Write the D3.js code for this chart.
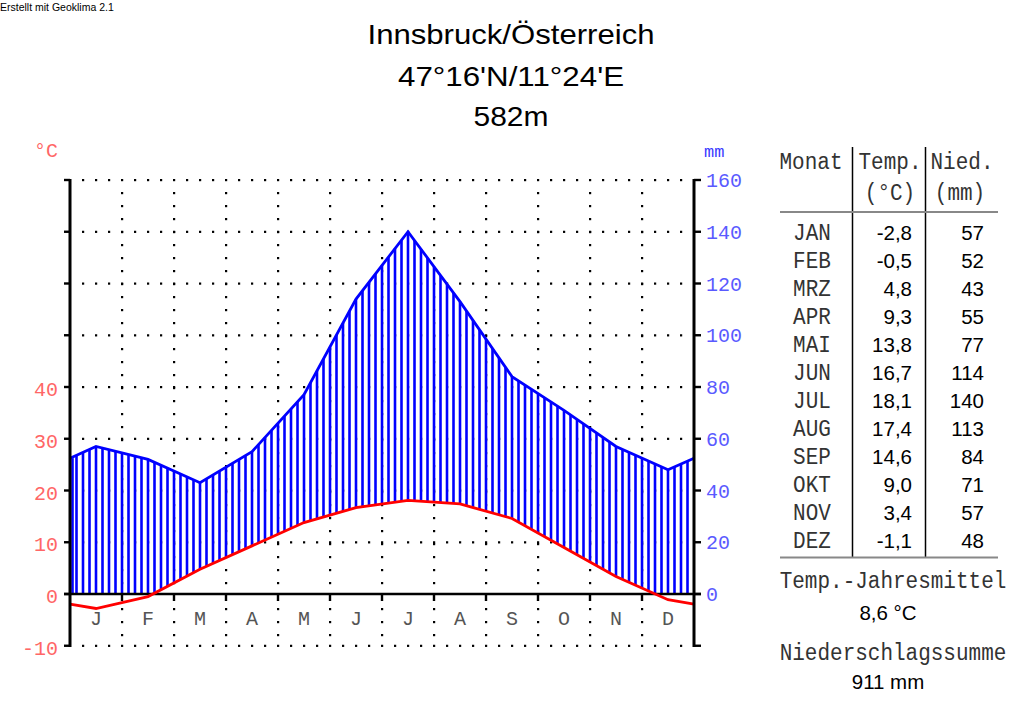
<!DOCTYPE html>
<html><head><meta charset="utf-8">
<script src="https://cdn.jsdelivr.net/npm/d3@7"></script>
<style>
html,body{margin:0;padding:0;background:#fff;}
svg{display:block;}
.mono{font-family:"Liberation Mono","DejaVu Sans Mono",monospace;}
.sans{font-family:"Liberation Sans",Arial,sans-serif;}
</style></head>
<body>
<svg id="c" width="1024" height="710"></svg>
<script>
const monthLetters = ["J","F","M","A","M","J","J","A","S","O","N","D"];
const monthNames = ["JAN","FEB","MRZ","APR","MAI","JUN","JUL","AUG","SEP","OKT","NOV","DEZ"];
const temperature = [-2.8,-0.5,4.8,9.3,13.8,16.7,18.1,17.4,14.6,9.0,3.4,-1.1];
const precipitation = [57,52,43,55,77,114,140,113,84,71,57,48];
const tempTicks = [-10,0,10,20,30,40];
const precipTicks = [0,20,40,60,80,100,120,140,160];
const gridLevels = [-10,0,10,20,30,40,50,60,70,80];
const titleLines = ["Innsbruck/Österreich","47°16'N/11°24'E","582m"];
const annualMean = "8,6 °C";
const annualSum = "911 mm";

const svg = d3.select("#c");
const fmt = v => d3.format(".1f")(v).replace(".", ",").replace("−","-");

const x = d3.scaleLinear().domain([0,12]).range([70,694]);
const yP = d3.scaleLinear().domain([0,160]).range([594,180]);
const yT = t => yP(2*t);

// extended series (edges = mean of Dec/Jan)
const extX = [0, ...d3.range(12).map(i=>i+0.5), 12];
const edgeP = (precipitation[11]+precipitation[0])/2;
const edgeT = (temperature[11]+temperature[0])/2;
const extP = [edgeP, ...precipitation, edgeP];
const extT = [edgeT, ...temperature, edgeT];
const interpP = d3.scaleLinear().domain(extX).range(extP);
const interpT = d3.scaleLinear().domain(extX).range(extT);

// credit
svg.append("text").attr("class","sans").attr("x",0).attr("y",11)
  .attr("font-size",10.5).text("Erstellt mit Geoklima 2.1");

// title
const titleY = [44,86,126];
const titleW = [287,226,75];
titleLines.forEach((t,i)=>{
  svg.append("text").attr("class","sans").attr("x",511).attr("y",titleY[i])
    .attr("text-anchor","middle").attr("font-size",28)
    .attr("textLength",titleW[i]).attr("lengthAdjust","spacingAndGlyphs").text(t);
});

// dotted grid
const dots = svg.append("g").attr("fill","#000");
gridLevels.filter(v=>v!==0).forEach(v=>{
  d3.range(1,48).forEach(k=>{
    dots.append("rect").attr("x",70+13*k-1).attr("y",yT(v)-1).attr("width",2.2).attr("height",2.2);
  });
});
d3.range(1,12).forEach(m=>{
  const xx = x(m);
  d3.range(1,36).forEach(k=>{
    const yy = 180+13*k;
    if (Math.abs(yy-594)<3) return;
    dots.append("rect").attr("x",xx-1).attr("y",yy-1).attr("width",2.2).attr("height",2.2);
  });
});

// hatch lines
const hatch = svg.append("g").attr("stroke","#0000ff").attr("stroke-width",2.6);
d3.range(0,96).forEach(k=>{
  let d = k/8;
  let xx = x(d);
  if (k===0) xx = 72.5;
  const top = yP(interpP(d));
  const bot = Math.min(yT(interpT(d)), yP(0));
  if (bot > top) hatch.append("line").attr("x1",xx).attr("x2",xx).attr("y1",top).attr("y2",bot);
});

// precipitation line
svg.append("path").datum(extX.map((d,i)=>[x(d), yP(extP[i])]))
  .attr("d", d3.line()).attr("fill","none").attr("stroke","#0000ff").attr("stroke-width",2.8);

// baseline
svg.append("line").attr("x1",64).attr("x2",701).attr("y1",yP(0)).attr("y2",yP(0))
  .attr("stroke","#000").attr("stroke-width",2.4);
// month ticks
d3.range(1,12).forEach(m=>{
  svg.append("line").attr("x1",x(m)).attr("x2",x(m)).attr("y1",yP(0)).attr("y2",yP(0)+7)
    .attr("stroke","#000").attr("stroke-width",2.4);
});

// temperature line
svg.append("path").datum(extX.map((d,i)=>[x(d), yT(extT[i])]))
  .attr("d", d3.line()).attr("fill","none").attr("stroke","#ff0000").attr("stroke-width",2.8);

// left axis
svg.append("line").attr("x1",70).attr("x2",70).attr("y1",179).attr("y2",647)
  .attr("stroke","#000").attr("stroke-width",3);
tempTicks.concat([50,60,70,80]).forEach(t=>{
  svg.append("line").attr("x1",64).attr("x2",70).attr("y1",yT(t)).attr("y2",yT(t))
    .attr("stroke","#000").attr("stroke-width",2.4);
});
tempTicks.forEach(t=>{
  svg.append("text").attr("class","mono").attr("x",58).attr("y",yT(t)+9)
    .attr("text-anchor","end").attr("font-size",20).attr("fill","#ff6666")
    .text(t<0 ? "-"+Math.abs(t) : t);
});
svg.append("text").attr("class","mono").attr("x",34).attr("y",157).attr("font-size",20)
  .attr("fill","#ff6666").text("°C");

// right axis
svg.append("line").attr("x1",694).attr("x2",694).attr("y1",179).attr("y2",647)
  .attr("stroke","#000").attr("stroke-width",3);
precipTicks.concat([-20]).forEach(p=>{
  svg.append("line").attr("x1",694).attr("x2",701).attr("y1",yP(p)).attr("y2",yP(p))
    .attr("stroke","#000").attr("stroke-width",2.4);
});
precipTicks.forEach(p=>{
  svg.append("text").attr("class","mono").attr("x",706).attr("y",yP(p)+7)
    .attr("font-size",20).attr("fill","#5a5aff").text(p);
});
svg.append("text").attr("class","mono").attr("x",704).attr("y",157).attr("font-size",17)
  .attr("fill","#3a3aff").text("mm");

// month letters
monthLetters.forEach((m,i)=>{
  svg.append("text").attr("class","mono").attr("x",x(i+0.5)).attr("y",625)
    .attr("text-anchor","middle").attr("font-size",20).attr("fill","#555").text(m);
});

// table
const tb = svg.append("g");
tb.append("line").attr("x1",852.5).attr("x2",852.5).attr("y1",147).attr("y2",557).attr("stroke","#000").attr("stroke-width",1.5);
tb.append("line").attr("x1",925.5).attr("x2",925.5).attr("y1",147).attr("y2",557).attr("stroke","#000").attr("stroke-width",1.5);
tb.append("line").attr("x1",780).attr("x2",998).attr("y1",212).attr("y2",212).attr("stroke","#888").attr("stroke-width",2);
tb.append("line").attr("x1",780).attr("x2",998).attr("y1",557.5).attr("y2",557.5).attr("stroke","#888").attr("stroke-width",2);

const monoTxt = (t,xx,yy,anchor,size) => tb.append("text").attr("class","mono")
  .attr("transform",`translate(${xx},${yy}) scale(1,1.15)`)
  .attr("text-anchor",anchor).attr("font-size",size||21)
  .attr("fill","#333").text(t);
const sansTxt = (t,xx,yy,anchor) => tb.append("text").attr("class","sans")
  .attr("x",xx).attr("y",yy).attr("text-anchor",anchor).attr("font-size",20.5)
  .attr("fill","#000").text(t);

monoTxt("Monat",811,169,"middle");
monoTxt("Temp.",890,169,"middle");
monoTxt("(°C)",890,200,"middle");
monoTxt("Nied.",962,169,"middle");
monoTxt("(mm)",960,200,"middle");

monthNames.forEach((m,i)=>{
  const yy = 239.5 + 28*i;
  monoTxt(m,812,yy,"middle");
  sansTxt(fmt(temperature[i]),912,yy,"end");
  sansTxt(String(precipitation[i]),984,yy,"end");
});

monoTxt("Temp.-Jahresmittel",893,588,"middle");
sansTxt(annualMean,888,620,"middle");
monoTxt("Niederschlagssumme",893,660,"middle");
sansTxt(annualSum,888,689,"middle");
</script>
</body></html>
